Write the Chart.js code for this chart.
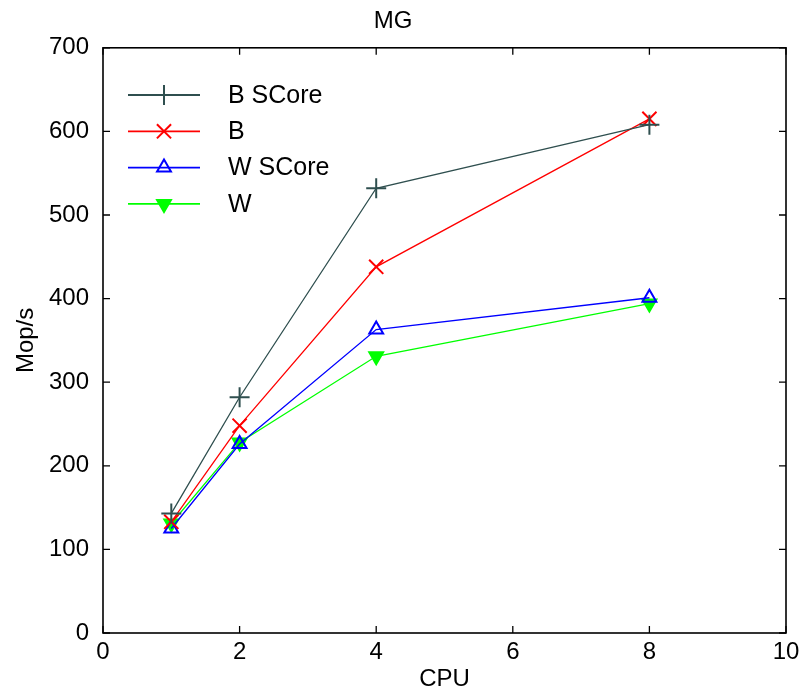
<!DOCTYPE html>
<html>
<head>
<meta charset="utf-8">
<script src="https://cdn.jsdelivr.net/npm/chart.js@4.4.0/dist/chart.umd.min.js"></script>
<style>
  html, body { margin: 0; padding: 0; background: #fff; }
  #wrap { width: 802px; height: 694px; }
</style>
</head>
<body>
<div id="wrap"><canvas id="mg"></canvas></div>
<script>
// data
const cpus = [1, 2, 4, 8];
const bScore = [143, 282, 532, 608];
const bPlain = [133, 248, 438, 615];
const wScore = [125, 226, 363, 401];
const wPlain = [131, 228, 331, 394];
const xTicks = [0, 2, 4, 6, 8, 10];
const yTicks = [0, 100, 200, 300, 400, 500, 600, 700];

const FONT = "'Liberation Sans', Arial, sans-serif";
Chart.defaults.font.family = FONT;
Chart.defaults.color = '#000';

const series = [
    { label: 'B SCore', data: bScore, color: '#2f4f4f', style: 'cross', radius: 10, rot: 0, fill: false },
    { label: 'B', data: bPlain, color: '#ff0000', style: 'crossRot', radius: 10, rot: 0, fill: false },
    { label: 'W SCore', data: wScore, color: '#0000ff', style: 'triangle', radius: 8, rot: 0, fill: false },
    { label: 'W', data: wPlain, color: '#00ff00', style: 'triangle', radius: 8, rot: 180, fill: true }
];

// frame, inward ticks and the legend box
const framePlugin = {
    id: 'frame',
    afterDatasetsDraw(chart) {
        const { ctx, chartArea: a, scales } = chart;
        ctx.save();
        ctx.strokeStyle = '#000';
        ctx.lineWidth = 1.6;
        ctx.strokeRect(a.left, a.top, a.right - a.left, a.bottom - a.top);
        ctx.lineWidth = 1.3;
        ctx.beginPath();
        xTicks.forEach(v => {
            const x = scales.x.getPixelForValue(v);
            ctx.moveTo(x, a.bottom); ctx.lineTo(x, a.bottom - 7);
            ctx.moveTo(x, a.top); ctx.lineTo(x, a.top + 7);
        });
        yTicks.forEach(v => {
            const y = scales.y.getPixelForValue(v);
            ctx.moveTo(a.left, y); ctx.lineTo(a.left + 7, y);
            ctx.moveTo(a.right, y); ctx.lineTo(a.right - 7, y);
        });
        ctx.stroke();

        // legend
        ctx.font = '25px ' + FONT;
        ctx.textBaseline = 'middle';
        ctx.textAlign = 'left';
        chart.data.datasets.forEach((ds, i) => {
            const y = 95 + i * 36.3;
            ctx.strokeStyle = ds.borderColor;
            ctx.lineWidth = 1.8;
            ctx.beginPath();
            ctx.moveTo(128, y); ctx.lineTo(200, y);
            ctx.stroke();
            ctx.fillStyle = ds.pointBackgroundColor;
            ctx.lineWidth = ds.pointBorderWidth;
            Chart.helpers.drawPoint(ctx, {
                pointStyle: ds.pointStyle,
                radius: ds.pointRadius,
                rotation: ds.pointRotation,
                borderWidth: ds.pointBorderWidth
            }, 164, y);
            ctx.fillStyle = '#000';
            ctx.fillText(ds.label, 228, y + 1);
        });
        ctx.restore();
    }
};

new Chart(document.getElementById('mg'), {
    type: 'line',
    data: {
        datasets: series.map(s => ({
            label: s.label,
            data: cpus.map((c, i) => ({ x: c, y: s.data[i] })),
            borderColor: s.color,
            backgroundColor: s.fill ? s.color : 'rgba(0,0,0,0)',
            borderWidth: 1.3,
            pointStyle: s.style,
            pointRadius: s.radius,
            pointHoverRadius: s.radius,
            pointRotation: s.rot,
            pointBorderWidth: 2,
            pointBorderColor: s.color,
            pointBackgroundColor: s.fill ? s.color : 'rgba(0,0,0,0)',
            tension: 0
        }))
    },
    options: {
        responsive: true,
        maintainAspectRatio: false,
        animation: false,
        layout: { padding: { top: 2, right: 16, left: 0, bottom: 0 } },
        scales: {
            x: {
                type: 'linear',
                min: 0, max: 10,
                afterBuildTicks: s => { s.ticks = xTicks.map(v => ({ value: v })); },
                afterFit: s => { s.height = 61; s.paddingRight = 0; s.paddingLeft = 0; },
                grid: { display: false },
                border: { display: false },
                ticks: { font: { size: 24 }, padding: -3, maxRotation: 0 },
                title: { display: true, text: 'CPU', font: { size: 24 }, padding: { top: 0, bottom: 0 } }
            },
            y: {
                min: 0, max: 700,
                afterBuildTicks: s => { s.ticks = yTicks.map(v => ({ value: v })); },
                afterFit: s => { s.width = 103; s.paddingTop = 0; s.paddingBottom = 0; },
                grid: { display: false },
                border: { display: false },
                ticks: { font: { size: 24 }, padding: 6 },
                title: { display: true, text: 'Mop/s', font: { size: 24 }, padding: { top: 12, bottom: 14 } }
            }
        },
        plugins: {
            legend: { display: false },
            tooltip: { enabled: false },
            title: {
                display: true,
                text: 'MG',
                font: { size: 24, weight: 'normal' },
                color: '#000',
                padding: { top: 5, bottom: 12 }
            }
        }
    },
    plugins: [framePlugin]
});
</script>
</body>
</html>
